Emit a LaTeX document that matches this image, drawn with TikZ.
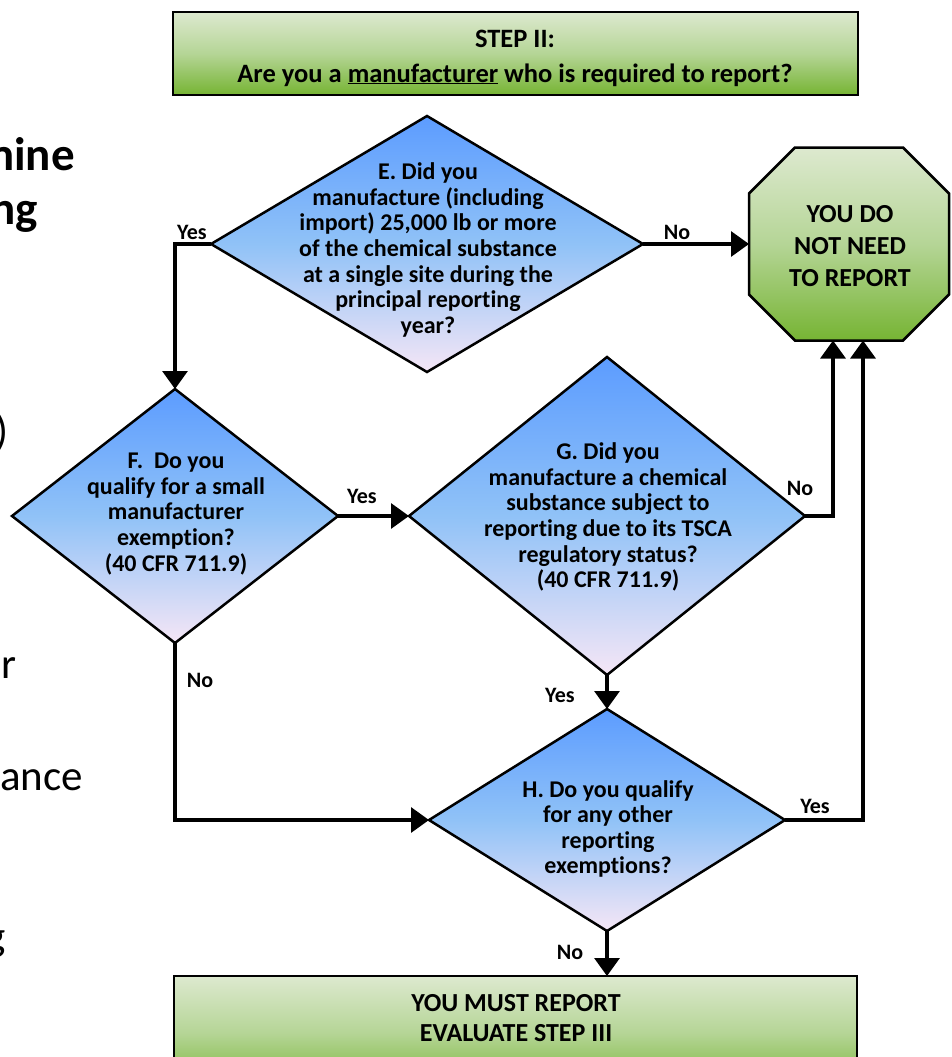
\documentclass[tikz,border=0pt]{standalone}
\usepackage{fontspec}
\setmainfont{Carlito}[Ligatures=NoCommon]
\usetikzlibrary{arrows.meta,shapes.geometric}
\definecolor{gtop}{HTML}{DDE9CF}
\definecolor{gmid}{HTML}{B5D596}
\definecolor{gbot}{HTML}{76B433}
\definecolor{btop}{HTML}{5C9CFF}
\definecolor{bmid}{HTML}{90C2F7}
\definecolor{bbot}{HTML}{F5E6F6}
\pgfdeclareverticalshading{greensh}{100bp}{color(0bp)=(gbot); color(25bp)=(gbot); color(50bp)=(gmid); color(75bp)=(gtop); color(100bp)=(gtop)}
\pgfdeclareverticalshading{bluesh}{100bp}{color(0bp)=(bbot); color(25bp)=(bbot); color(50bp)=(bmid); color(75bp)=(btop); color(100bp)=(btop)}
\tikzset{
  gbox/.style={draw, line width=2.5pt, shading=greensh, rectangle, inner sep=0pt, outer sep=0pt},
  dia/.style={draw, line width=2.5pt, shading=bluesh, diamond, inner sep=0pt, outer sep=0pt},
  dtext/.style={font=\fontsize{24}{25.6}\selectfont\bfseries, align=center, inner sep=0pt},
  btext/.style={font=\fontsize{26}{32}\selectfont\bfseries, align=center, inner sep=0pt},
  lbl/.style={font=\fontsize{22}{24}\selectfont\bfseries, inner sep=0pt},
  conn/.style={line width=3.2pt},
  arr/.style={conn, -{Triangle[width=25pt,length=18pt]}},
  frag/.style={font=\fontsize{43}{46}\selectfont, anchor=base east, inner sep=0pt},
  fragb/.style={frag, font=\fontsize{47}{50}\selectfont\bfseries},
}
\begin{document}
\begin{tikzpicture}[x=1pt,y=-1pt]
\useasboundingbox (0,0) rectangle (952,1057);
\clip (0,0) rectangle (952,1057);
% left fragments of slide text
\node[fragb] (fr1) at (75,170) {mine};
\node[fragb] (fr2) at (38,224) {ng};
\node[frag] (fr3) at (9,445) {)};
\node[frag] (fr4) at (17,678) {r};
\node[frag] (fr5) at (83,790) {ance};
\node[frag] (fr6) at (6,950) {g};
% top box
\node[gbox, minimum width=685pt, minimum height=83pt] (step) at (515.5,53.5) {};
\node[btext, font=\fontsize{26.5}{35}\selectfont\bfseries] (stept) at (515,58) {STEP II:\\Are you a \underline{manufacturer} who is required to report?};
% octagon
\node[minimum width=200pt, minimum height=193pt, inner sep=0pt, outer sep=0pt] (oct) at (849,244) {};
\path[draw, line width=2.5pt, shading=greensh]
  ([xshift=46pt]oct.north west) -- ([xshift=-46pt]oct.north east) -- ([yshift=-46pt]oct.north east)
  -- ([yshift=46pt]oct.south east) -- ([xshift=-46pt]oct.south east) -- ([xshift=46pt]oct.south west)
  -- ([yshift=46pt]oct.south west) -- ([yshift=-46pt]oct.north west) -- cycle;
\node[btext] (octt) at (850,246) {YOU DO\\NOT NEED\\TO REPORT};
% diamonds
\node[dia, minimum width=432pt, minimum height=256pt] (E) at (427,244) {};
\node[dtext] (Et) at (428,250) {E. Did you\\manufacture (including\\import) 25,000 lb or more\\of the chemical substance\\at a single site during the\\principal reporting\\year?};
\node[dia, minimum width=326pt, minimum height=254pt] (F) at (175,516) {};
\node[dtext] (Ft) at (176,514) {F.\ \ Do you\\qualify for a small\\manufacturer\\exemption?\\(40 CFR 711.9)};
\node[dia, minimum width=396pt, minimum height=318pt] (G) at (607,516) {};
\node[dtext] (Gt) at (608,517) {G. Did you\\manufacture a chemical\\substance subject to\\reporting due to its TSCA\\regulatory status?\\(40 CFR 711.9)};
\node[dia, minimum width=356pt, minimum height=222pt] (H) at (607,820) {};
\node[dtext] (Ht) at (608,829) {H. Do you qualify\\for any other\\reporting\\exemptions?};
% final box
\node[gbox, minimum width=683pt, minimum height=114pt] (fin) at (515.5,1033) {};
\node[btext, font=\fontsize{26}{30}\selectfont\bfseries] (fint) at (516,1018) {YOU MUST REPORT\\EVALUATE STEP III};
% connector end points on octagon bottom
\coordinate (o1) at ([xshift=-16pt]oct.south);
\coordinate (o2) at ([xshift=14pt]oct.south);
% connectors
\draw[arr] (E.west) -| (F.north);
\draw[arr] (E.east) -- (oct.west);
\draw[arr] (F.east) -- (G.west);
\draw[arr] (G.east) -| (o1);
\draw[arr] (G.south) -- (H.north);
\draw[arr] (H.east) -| (o2);
\draw[arr] (F.south) |- (H.west);
\draw[arr] (H.south) -- (H.south |- fin.north);
% labels
\node[lbl] (lEy) at (192,232) {Yes};
\node[lbl] (lEn) at (677,232) {No};
\node[lbl] (lFy) at (362,496) {Yes};
\node[lbl] (lGn) at (800,488) {No};
\node[lbl] (lGy) at (560,695) {Yes};
\node[lbl] (lFn) at (200,680) {No};
\node[lbl] (lHy) at (815,806) {Yes};
\node[lbl] (lHn) at (570,952) {No};
\end{tikzpicture}
\end{document}
